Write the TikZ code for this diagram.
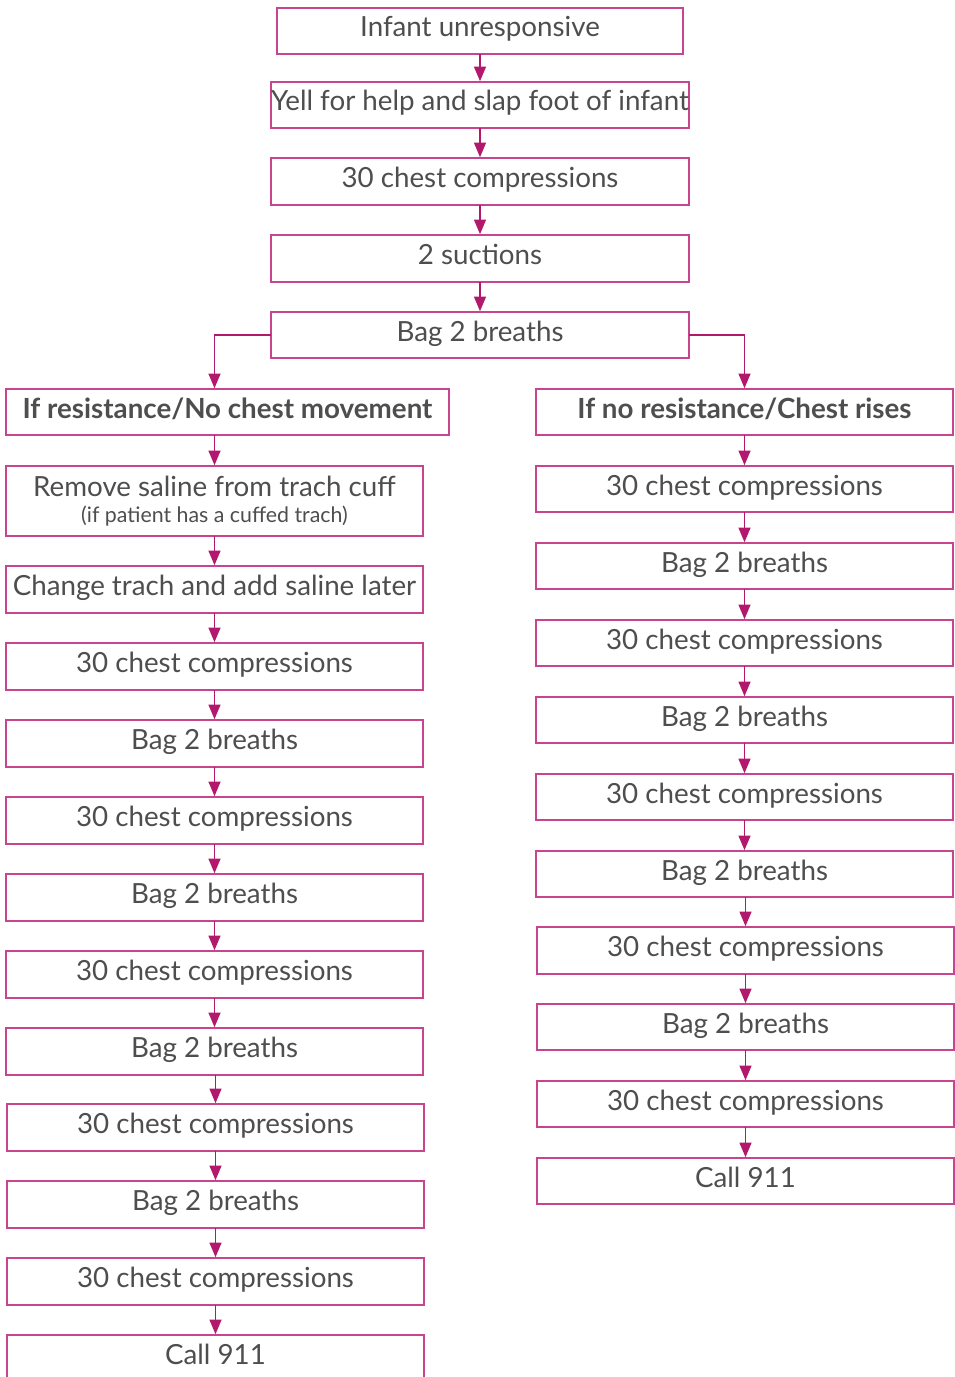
\documentclass[tikz,border=0pt]{standalone}
\usepackage{fontspec}
\setmainfont{Lato}
\usetikzlibrary{arrows.meta}
\definecolor{bordc}{HTML}{C9448E}
\definecolor{arrc}{HTML}{B2186C}
\definecolor{txtc}{HTML}{4E4E4E}
\tikzset{
  box/.style={draw=bordc, line width=1.1pt, fill=white, inner sep=0pt, outer sep=0pt,
    text=txtc, font=\fontsize{20.8}{23}\selectfont, align=center},
  oneline/.style={text height=15pt, text depth=6pt},
  arr/.style={draw=arrc, line width=1.1pt, -{Triangle[width=9pt,length=11pt]}, shorten >=0.6pt},
}
\newcommand\mybox[7][oneline]{%
  \node[box,#1, minimum width={(#4-#2)*0.75pt}, minimum height={(#5-#3)*0.75pt}]
    (#6) at ({(#2+#4)/2},{(#3+#5)/2}) {#7};}
\begin{document}
\begin{tikzpicture}[x=0.75pt,y=-0.75pt]
\useasboundingbox (0,0) rectangle (955,1377);
\clip (0,0) rectangle (955,1377);
% top
\mybox{277}{8}{683}{54}{t1}{Infant unresponsive}
\mybox{271}{82}{689}{128}{t2}{Yell for help and slap foot of infant}
\mybox{271}{158}{689}{205}{t3}{30 chest compressions}
\mybox{271}{235}{689}{282}{t4}{2 suctions}
\mybox{271}{312}{689}{358}{t5}{Bag 2 breaths}
% left
\mybox[oneline,font=\fontsize{20.8}{23}\selectfont\bfseries]{6}{389}{449}{435}{hl}{If resistance/No chest movement}
\mybox[]{6}{466}{423}{536}{l1}{Remove saline from trach cuff\\[-3pt]{\fontsize{16}{18}\selectfont (if patient has a cuffed trach)}}
\mybox{6}{566}{423}{613}{l2}{Change trach and add saline later}
\mybox{6}{643}{423}{690}{l3}{30 chest compressions}
\mybox{6}{720}{423}{767}{l4}{Bag 2 breaths}
\mybox{6}{797}{423}{844}{l5}{30 chest compressions}
\mybox{6}{874}{423}{921}{l6}{Bag 2 breaths}
\mybox{6}{951}{423}{998}{l7}{30 chest compressions}
\mybox{6}{1028}{423}{1075}{l8}{Bag 2 breaths}
\mybox{7}{1104}{424}{1151}{l9}{30 chest compressions}
\mybox{7}{1181}{424}{1228}{l10}{Bag 2 breaths}
\mybox{7}{1258}{424}{1305}{l11}{30 chest compressions}
\mybox{7}{1335}{424}{1381}{l12}{Call 911}
% right
\mybox[oneline,font=\fontsize{20.8}{23}\selectfont\bfseries]{536}{389}{953}{435}{hr}{If no resistance/Chest rises}
\mybox{536}{466}{953}{512}{r1}{30 chest compressions}
\mybox{536}{543}{953}{589}{r2}{Bag 2 breaths}
\mybox{536}{620}{953}{666}{r3}{30 chest compressions}
\mybox{536}{697}{953}{743}{r4}{Bag 2 breaths}
\mybox{536}{774}{953}{820}{r5}{30 chest compressions}
\mybox{536}{851}{953}{897}{r6}{Bag 2 breaths}
\mybox{537}{927}{954}{974}{r7}{30 chest compressions}
\mybox{537}{1004}{954}{1050}{r8}{Bag 2 breaths}
\mybox{537}{1081}{954}{1127}{r9}{30 chest compressions}
\mybox{537}{1158}{954}{1204}{r10}{Call 911}
% connectors
\foreach \a/\b in {t1/t2,t2/t3,t3/t4,t4/t5,
  l1/l2,l2/l3,l3/l4,l4/l5,l5/l6,l6/l7,l7/l8,l8/l9,l9/l10,l10/l11,l11/l12,
  hr/r1,r1/r2,r2/r3,r3/r4,r4/r5,r5/r6,r6/r7,r7/r8,r8/r9,r9/r10}
  \draw[arr] (\b.north |- \a.south) -- (\b.north);
\draw[arr] (l1.north |- hl.south) -- (l1.north);
\draw[arr] (t5.west) -| (l1.north |- hl.north);
\draw[arr] (t5.east) -| (r1.north |- hr.north);
\end{tikzpicture}
\end{document}
